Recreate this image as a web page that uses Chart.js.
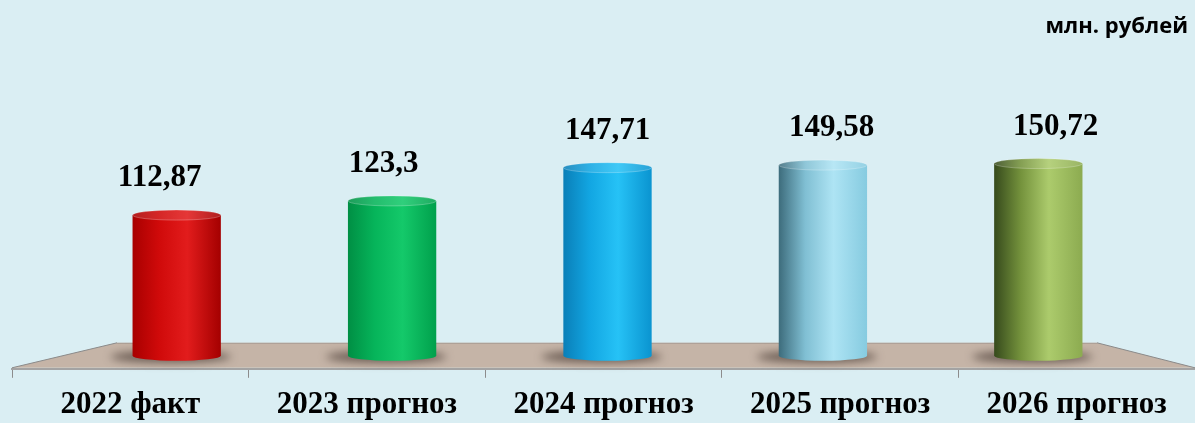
<!DOCTYPE html>
<html>
<head>
<meta charset="utf-8">
<script src="https://cdn.jsdelivr.net/npm/chart.js@4/dist/chart.umd.min.js"></script>
<style>
    html, body { margin: 0; padding: 0; background: #daeef3; }
    canvas { display: block; }
</style>
</head>
<body>
<canvas id="chart" width="1195" height="423"></canvas>
<script>
const categories = ["2022 факт", "2023 прогноз", "2024 прогноз", "2025 прогноз", "2026 прогноз"];
const values = [112.87, 123.3, 147.71, 149.58, 150.72];
const unitText = "млн. рублей";

// left edge, light, highlight, right edge
const barShades = [
    ["#a80000", "#d00a0a", "#e21c1c", "#a40000"],
    ["#008f44", "#06b45a", "#14c96a", "#00a04c"],
    ["#0a7fb8", "#12a6e2", "#26c2f6", "#0a94d0"],
    ["#3d6c7c", "#80bfd3", "#aee4f4", "#86cbe0"],
    ["#364a1c", "#74923c", "#accb6c", "#8cab50"]
];

const bold = "bold 31px 'Liberation Serif', 'Times New Roman', serif";

const cylinders = {
    id: "cylinders",
    afterLayout(chart) {
        // bars stand in the middle depth of the floor
        const a = chart.chartArea, s = chart.scales.x;
        s.left = a.left + 57;
        s.right = a.right - 49;
        s.width = s.right - s.left;
        s.configure();
    },
    beforeDatasetsDraw(chart) {
        const ctx = chart.ctx, a = chart.chartArea;
        const back = a.bottom - 26, front = a.bottom - 1;
        ctx.save();
        ctx.beginPath();
        ctx.moveTo(a.left, front);
        ctx.lineTo(a.left + 105, back);
        ctx.lineTo(a.right - 98, back);
        ctx.lineTo(a.right, front);
        ctx.closePath();
        ctx.fillStyle = "#c5b4a7";
        ctx.fill();
        ctx.strokeStyle = "#8a8a8a";
        ctx.lineWidth = 1;
        ctx.beginPath();
        ctx.moveTo(a.left, front);
        ctx.lineTo(a.left + 105, back);
        ctx.moveTo(a.right - 98, back);
        ctx.lineTo(a.right, front);
        ctx.stroke();
        ctx.strokeStyle = "rgba(150,140,135,0.6)";
        ctx.beginPath();
        ctx.moveTo(a.left + 105, back + 0.5);
        ctx.lineTo(a.right - 98, back + 0.5);
        ctx.stroke();

        // shadows on the floor
        const meta = chart.getDatasetMeta(0);
        ctx.filter = "blur(4px)";
        ctx.fillStyle = "rgba(70,55,48,0.7)";
        meta.data.forEach(bar => {
            ctx.beginPath();
            ctx.ellipse(bar.x - 6, a.bottom - 12, bar.width / 2 + 16, 6, 0, 0, Math.PI * 2);
            ctx.fill();
        });
        ctx.restore();
    },
    afterDatasetsDraw(chart) {
        const ctx = chart.ctx, a = chart.chartArea;
        const meta = chart.getDatasetMeta(0);
        const mid = (a.left + a.right) / 2;
        ctx.save();
        meta.data.forEach((bar, i) => {
            const c = barShades[i];
            const rx = bar.width / 2, ry = 5;
            const x0 = bar.x - rx, x1 = bar.x + rx;
            const top = bar.y, bot = a.bottom - 13;

            const g = ctx.createLinearGradient(x0, 0, x1, 0);
            g.addColorStop(0, c[0]);
            g.addColorStop(0.3, c[1]);
            g.addColorStop(0.62, c[2]);
            g.addColorStop(1, c[3]);

            ctx.beginPath();
            ctx.moveTo(x0, top);
            ctx.lineTo(x0, bot);
            ctx.ellipse(bar.x, bot, rx, ry, 0, Math.PI, 0, true);
            ctx.lineTo(x1, top);
            ctx.closePath();
            ctx.fillStyle = g;
            ctx.fill();

            // lid
            ctx.beginPath();
            ctx.ellipse(bar.x, top, rx, ry, 0, 0, Math.PI * 2);
            ctx.fillStyle = g;
            ctx.fill();
            ctx.fillStyle = "rgba(255,255,255,0.12)";
            ctx.fill();
            ctx.strokeStyle = "rgba(255,255,255,0.25)";
            ctx.lineWidth = 1;
            ctx.stroke();

            // value label
            ctx.font = bold;
            ctx.fillStyle = "#000";
            ctx.textAlign = "center";
            ctx.textBaseline = "middle";
            const lx = mid + (bar.x - mid) * 1.04;
            ctx.fillText(String(values[i]).replace(".", ","), lx, top - 37);
        });

        ctx.font = "bold 22px 'Open Sans', sans-serif";
        ctx.textAlign = "right";
        ctx.fillText(unitText, chart.width - 7, 27);
        ctx.restore();
    }
};

new Chart(document.getElementById("chart"), {
    type: "bar",
    data: {
        labels: categories,
        datasets: [{
            data: values,
            backgroundColor: "rgba(0,0,0,0)",
            borderWidth: 0,
            categoryPercentage: 1,
            barPercentage: 0.41
        }]
    },
    options: {
        responsive: false,
        animation: false,
        layout: { padding: { top: 42, left: 12, right: 0, bottom: -10 } },
        plugins: {
            legend: { display: false },
            tooltip: { enabled: false }
        },
        scales: {
            x: { display: false },
            x2: {
                type: "category",
                labels: categories,
                position: "bottom",
                offset: true,
                grid: { offset: true, drawOnChartArea: false, tickLength: 9, color: "#8c8c8c" },
                border: { color: "#a3a3a3", width: 2 },
                ticks: { font: { family: "'Liberation Serif', serif", size: 31, weight: "bold" }, color: "#000", padding: 9, maxRotation: 0, autoSkip: false }
            },
            y: { display: false, min: 0, max: 240 }
        }
    },
    plugins: [cylinders]
});
</script>
</body>
</html>
